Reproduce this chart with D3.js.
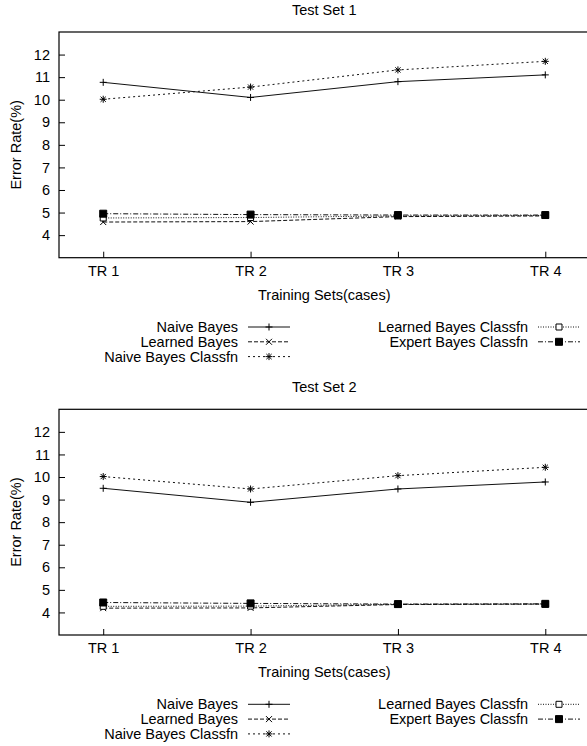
<!DOCTYPE html>
<html>
<head>
<meta charset="utf-8">
<script src="https://cdn.jsdelivr.net/npm/d3@7"></script>
<style>
  body { margin: 0; background: #fff; }
  svg { display: block; font-family: "Liberation Sans", Arial, sans-serif; }
</style>
</head>
<body>
<div id="chart"></div>
<script>
/* Error rate of the classifiers over four training sets, two test sets */

const categories = ["TR 1", "TR 2", "TR 3", "TR 4"];
const seriesNames = ["Naive Bayes", "Learned Bayes", "Naive Bayes Classfn",
                     "Learned Bayes Classfn", "Expert Bayes Classfn"];
const yTicks = [4, 5, 6, 7, 8, 9, 10, 11, 12];
const panelTitles = ["Test Set 1", "Test Set 2"];

// Test Set 1
const set1NaiveBayes = [10.77, 10.10, 10.80, 11.10];
const set1LearnedBayes = [4.58, 4.60, 4.82, 4.85];
const set1NaiveClassfn = [10.02, 10.56, 11.32, 11.70];
const set1LearnedClassfn = [4.76, 4.78, 4.85, 4.87];
const set1ExpertClassfn = [4.95, 4.91, 4.89, 4.89];

// Test Set 2
const set2NaiveBayes = [9.50, 8.88, 9.47, 9.78];
const set2LearnedBayes = [4.19, 4.20, 4.35, 4.37];
const set2NaiveClassfn = [10.02, 9.47, 10.06, 10.43];
const set2LearnedClassfn = [4.27, 4.28, 4.36, 4.37];
const set2ExpertClassfn = [4.44, 4.40, 4.37, 4.38];

const panels = [
  [set1NaiveBayes, set1LearnedBayes, set1NaiveClassfn, set1LearnedClassfn, set1ExpertClassfn],
  [set2NaiveBayes, set2LearnedBayes, set2NaiveClassfn, set2LearnedClassfn, set2ExpertClassfn]
];

const width = 587, height = 746, panelH = 377;
const margin = { top: 32, right: -3, bottom: 119, left: 59 };
const fontSize = 14.5;

// line dash and marker per series (gnuplot style)
const dashes = [null, "4,2", "2,3", "1,1.5", "5,2,1,2"];
const markers = ["plus", "times", "star", "box", "fbox"];

function markerPath(type) {
  const p = d3.path();
  if (type === "plus" || type === "star") {
    const r = 3.5;
    p.moveTo(-r, 0); p.lineTo(r, 0);
    p.moveTo(0, -r); p.lineTo(0, r);
  }
  if (type === "times" || type === "star") {
    const r = type === "star" ? 2.6 : 3;
    p.moveTo(-r, -r); p.lineTo(r, r);
    p.moveTo(-r, r); p.lineTo(r, -r);
  }
  if (type === "box") p.rect(-3, -3, 6, 6);
  if (type === "fbox") p.rect(-3.5, -3.5, 7, 7);
  return p.toString();
}

function drawMarker(g, type, x, y) {
  g.append("path")
    .attr("d", markerPath(type))
    .attr("transform", `translate(${x},${y})`)
    .attr("fill", type === "fbox" ? "#000" : (type === "box" ? "#fff" : "none"))
    .attr("stroke", "#000")
    .attr("stroke-width", 1);
}

const svg = d3.select("#chart")
  .append("svg")
  .attr("width", width)
  .attr("height", height)
  .attr("viewBox", [0, 0, width, height]);

const x = d3.scalePoint()
  .domain(categories)
  .range([margin.left, 589.5])
  .padding(0.3);

const y = d3.scaleLinear()
  .domain([3, 13])
  .range([panelH - margin.bottom - 0.3, margin.top]);

panels.forEach((data, pi) => {
  const g = svg.append("g").attr("transform", `translate(0,${pi * panelH + (pi ? 0.3 : 0)})`);

  // title
  g.append("text")
    .attr("x", (margin.left + 589.5) / 2)
    .attr("y", 15)
    .attr("text-anchor", "middle")
    .style("font-size", fontSize)
    .text(panelTitles[pi]);

  // axes with inward ticks
  const yAxis = g.append("g")
    .attr("transform", `translate(${margin.left},0)`)
    .call(d3.axisLeft(y).tickValues(yTicks).tickSizeInner(-6).tickSizeOuter(0).tickPadding(9));
  const xAxis = g.append("g")
    .attr("transform", `translate(0,${y(3)})`)
    .call(d3.axisBottom(x).tickSizeInner(-6).tickSizeOuter(0).tickPadding(8));
  [xAxis, yAxis].forEach(a => {
    a.select(".domain").remove();
    a.selectAll("text").style("font-size", fontSize).attr("fill", "#000")
      .style("font-family", '"Liberation Sans", Arial, sans-serif');
    a.selectAll("line").attr("stroke", "#000");
  });

  // frame (right side falls just outside the picture)
  g.append("rect")
    .attr("x", margin.left)
    .attr("y", y(13))
    .attr("width", 589.5 - margin.left)
    .attr("height", y(3) - y(13))
    .attr("fill", "none")
    .attr("stroke", "#000")
    .attr("stroke-width", 1.2);

  // axis titles
  g.append("text")
    .attr("transform", `translate(21,${(y(3) + y(13)) / 2}) rotate(-90)`)
    .attr("text-anchor", "middle")
    .style("font-size", fontSize)
    .text("Error Rate(%)");

  g.append("text")
    .attr("x", (margin.left + 589.5) / 2)
    .attr("y", 300)
    .attr("text-anchor", "middle")
    .style("font-size", fontSize)
    .text("Training Sets(cases)");

  // series lines + markers
  const line = d3.line().x((d, i) => x(categories[i])).y(d => y(d));
  data.forEach((vals, si) => {
    g.append("path")
      .datum(vals)
      .attr("d", line)
      .attr("fill", "none")
      .attr("stroke", "#111")
      .attr("stroke-width", 1)
      .attr("stroke-dasharray", dashes[si]);
  });
  data.forEach((vals, si) => {
    vals.forEach((v, i) => drawMarker(g, markers[si], x(categories[i]), y(v)));
  });

  // legend: three rows left, two rows right
  seriesNames.forEach((name, si) => {
    const col = si < 3 ? 0 : 1;
    const row = si < 3 ? si : si - 3;
    const tx = col ? 528 : 238;
    const ly = 327 + row * 14.8;
    g.append("text")
      .attr("x", tx)
      .attr("y", ly)
      .attr("dy", "0.35em")
      .attr("text-anchor", "end")
      .style("font-size", fontSize)
      .text(name);
    g.append("line")
      .attr("x1", tx + 10).attr("x2", tx + 52)
      .attr("y1", ly).attr("y2", ly)
      .attr("stroke", "#111")
      .attr("stroke-dasharray", dashes[si]);
    drawMarker(g, markers[si], tx + 31, ly);
  });
});
</script>
</body>
</html>
